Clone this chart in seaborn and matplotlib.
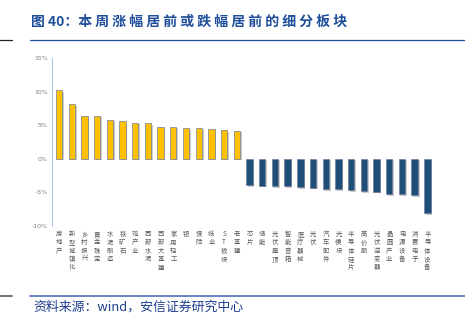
import matplotlib
matplotlib.use("Agg")
import matplotlib.pyplot as plt
import matplotlib.patheffects as pe
from matplotlib.lines import Line2D
import seaborn as sns
import pandas as pd

categories = ["房地产", "新型城镇化", "乡村振兴", "黄金珠宝", "水泥制造", "铁矿石", "鸡产业",
              "西部水泥", "西部大基建", "家用轻工", "银", "保险", "纸业", "ST板块", "老基建",
              "芯片", "储能", "光伏屋顶", "智能音箱", "医疗器械", "光伏", "汽车配件", "光模块",
              "半导体硅片", "高价股", "光伏逆变器", "晶圆产业", "电源设备", "消费电子", "半导体设备"]
values = [10.25, 8.1, 6.4, 6.4, 5.8, 5.6, 5.4, 5.35, 4.8, 4.8, 4.6, 4.6, 4.5, 4.3, 4.2,
          -3.9, -4.0, -4.1, -4.1, -4.2, -4.3, -4.5, -4.5, -4.7, -4.8, -4.9, -5.3, -5.3, -5.4, -8.1]
yticks = [-10, -5, 0, 5, 10, 15]
ytick_labels = ["-10%", "-5%", "0%", "5%", "10%", "15%"]

sns.set_theme(style="white")
plt.rcParams['font.family'] = ['Noto Sans CJK SC', 'DejaVu Sans']

df = pd.DataFrame({"cat": categories, "val": values})
colors = ["#FFC000" if v >= 0 else "#1F4E79" for v in values]

W, H = 465, 330
fig = plt.figure(figsize=(W / 100, H / 100), dpi=100)
ax = fig.add_axes([52 / W, 1 - 226 / H, (435 - 52) / W, (226 - 58) / H])

sns.barplot(data=df, x="cat", y="val", hue="cat", palette=colors, legend=False, saturation=1,
            width=0.5, ax=ax, edgecolor="#6F7F99", linewidth=0.5)
for p in ax.patches:
    p.set_path_effects([pe.SimplePatchShadow(offset=(1.2, -1.2), shadow_rgbFace="#999999", alpha=0.5),
                        pe.Normal()])

ax.set_xlim(-0.55, 29.6)
ax.set_ylim(-10, 15)
ax.set_yticks(yticks)
ax.set_yticklabels(ytick_labels, fontsize=4.5, color="#7F7F7F", family=['DejaVu Sans'])
ax.set_xticks(range(len(categories)))
ax.set_xticklabels(["\n".join(c) for c in categories], fontsize=4.6, color="#595959",
                   linespacing=1.05, va="top")
ax.tick_params(axis="x", length=0, pad=3)
ax.tick_params(axis="y", length=0, pad=3)
ax.set_xlabel("")
ax.set_ylabel("")
for s in ["top", "right", "bottom"]:
    ax.spines[s].set_visible(False)
ax.spines["left"].set_color("#A9C4EB")
ax.spines["left"].set_linewidth(0.8)

title = "图 40：" + " ".join("本周涨幅居前或跌幅居前的细分板块")
fig.text(31 / W, 1 - 22 / H, title, fontsize=10,
         fontweight="bold", color="#1F4E9A", va="center", ha="left")
fig.add_artist(Line2D([30 / W, 1], [1 - 40 / H, 1 - 40 / H], color="#1F4E9A", lw=0.9))
fig.add_artist(Line2D([0, 12 / W], [1 - 40 / H, 1 - 40 / H], color="#222222", lw=0.9))
fig.add_artist(Line2D([30 / W, 1], [1 - 296 / H, 1 - 296 / H], color="#5B7BBE", lw=1.3))
fig.add_artist(Line2D([0, 12 / W], [1 - 296 / H, 1 - 296 / H], color="#666666", lw=1.3))
source = "资料来源：wind，安信证券研究中心"
fig.text(33 / W, 1 - 307 / H, source, fontsize=9.3, style="italic",
         color="#1F3F8F", va="center", ha="left")

fig.savefig("out.png", dpi=100)
